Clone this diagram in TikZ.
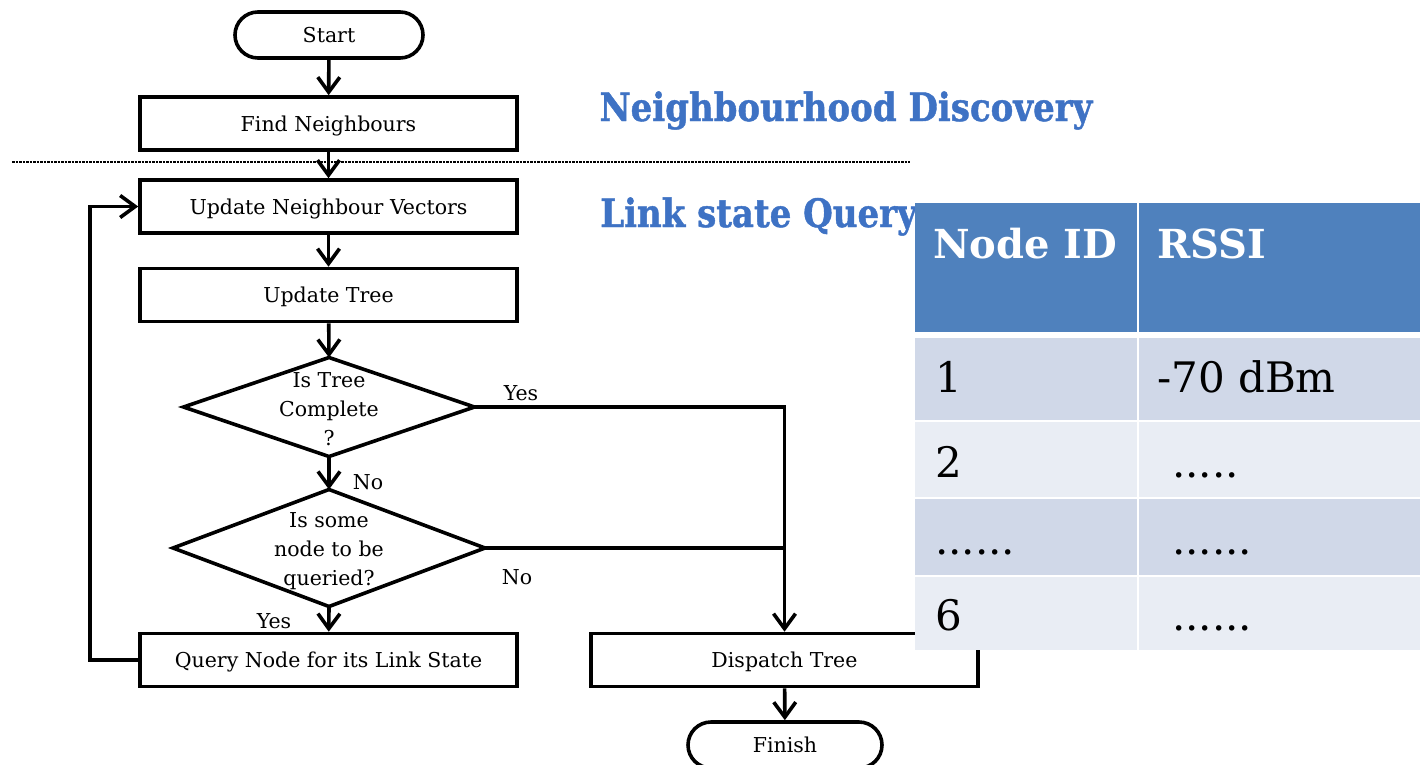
\documentclass[tikz,border=0pt]{standalone}
\usepackage{fontspec}
\setmainfont{DejaVu Serif}
\newfontfamily\wafam[FakeBold=1.2]{DejaVu Serif Bold}
\usetikzlibrary{arrows.meta,shapes.misc}
\definecolor{hdr}{RGB}{79,129,189}
\definecolor{rowA}{RGB}{208,216,232}
\definecolor{rowB}{RGB}{233,237,244}
\definecolor{wordart}{RGB}{62,114,196}
\newcommand\flowfont{\fontsize{20.5}{29}\selectfont}
\newcommand\tabfont{\fontsize{42}{42}\selectfont}
\newcommand\hdrfont{\fontsize{40}{40}\selectfont\bfseries}
\newcommand\wafont{\fontsize{34}{34}\wafam}
\tikzset{
  stepbox/.style={draw, line width=3.6pt, minimum width=377pt, minimum height=53pt, inner sep=0pt, text height=15pt, text depth=0pt, font=\flowfont},
  term/.style={draw, rounded rectangle, line width=3.6pt, minimum height=46pt, inner sep=0pt, text height=15pt, text depth=0pt, font=\flowfont},
  arr/.style={line width=3.6pt, -{Straight Barb[length=15pt,width=22pt]}},
  plain/.style={line width=3.6pt},
  lbl/.style={font=\flowfont, inner sep=0pt},
  dtext/.style={font=\flowfont, inner sep=0pt, align=center},
  ghost/.style={inner sep=0pt, outer sep=0pt},
  tabtxt/.style={font=\tabfont, inner sep=0pt, anchor=base west},
  hdrtxt/.style={font=\hdrfont, text=white, inner sep=0pt, anchor=base west},
  watxt/.style={inner sep=0pt, text=wordart, font=\wafont},
}
\begin{document}
\begin{tikzpicture}[x=1pt,y=-1pt]
\useasboundingbox (0,0) rectangle (1420,764);

% flowchart nodes
\node[term, minimum width=188pt] (start) at (329,35) {Start};
\node[stepbox] (find) at (328.5,123.5) {Find Neighbours};
\node[stepbox] (unv) at (328.5,206.5) {Update Neighbour Vectors};
\node[stepbox] (tree) at (328.5,295) {Update Tree};
\node[ghost, minimum width=291pt, minimum height=99pt] (d1) at (329,407) {};
\draw[plain, line join=miter] (d1.west) -- (d1.north) -- (d1.east) -- (d1.south) -- cycle;
\node[dtext] (d1t) at (329,409) {Is Tree\\Complete\\?};
\node[ghost, minimum width=312pt, minimum height=117pt] (d2) at (329,548) {};
\draw[plain, line join=miter] (d2.west) -- (d2.north) -- (d2.east) -- (d2.south) -- cycle;
\node[dtext] (d2t) at (329,551) {Is some\\node to be\\queried?};
\node[stepbox] (query) at (328.5,660) {Query Node for its Link State};
\node[stepbox, minimum width=387pt] (dispatch) at (784.5,660) {Dispatch Tree};
\node[term, minimum width=194pt] (finish) at (785,745) {Finish};

% separator
\coordinate (sepL) at (12,162);
\coordinate (sepR) at (910,162);
\draw[line width=1.5pt, dash pattern=on 2.5pt off 1pt] (sepL) -- (sepR);

% connectors
\draw[arr] (start) -- (find);
\draw[arr] (find) -- (unv);
\draw[arr] (unv) -- (tree);
\draw[arr] (tree) -- (d1.north);
\draw[arr] (d1.south) -- (d2.north);
\draw[arr] (d2.south) -- (query);
\draw[arr] (query.west) -- ++(-48,0) |- (unv.west);
\draw[arr] (d1.east) -| (dispatch.north);
\draw[plain] (d2.east) -- (d2.east -| dispatch.north);
\draw[arr] (dispatch) -- (finish);

% labels
\node[lbl] (yes1) at (521,393) {Yes};
\node[lbl] (no1) at (368,482) {No};
\node[lbl] (no2) at (517,577) {No};
\node[lbl] (yes2) at (274,621) {Yes};

% word-art titles
\node[watxt, anchor=base] (nd) at (846,121) {\scalebox{1}[1.15]{Neighbourhood Discovery}};
\node[watxt, anchor=base west] (lq) at (600,227) {\scalebox{1}[1.15]{Link state Query}};

% table
\fill[hdr] (915,203) rectangle (1137,332);
\fill[hdr] (1139,203) rectangle (1420,332);
\fill[rowA] (915,338) rectangle (1137,420);
\fill[rowA] (1139,338) rectangle (1420,420);
\fill[rowB] (915,422) rectangle (1137,497);
\fill[rowB] (1139,422) rectangle (1420,497);
\fill[rowA] (915,499) rectangle (1137,575);
\fill[rowA] (1139,499) rectangle (1420,575);
\fill[rowB] (915,577) rectangle (1137,650);
\fill[rowB] (1139,577) rectangle (1420,650);

\node[hdrtxt] (h1) at (933,258) {Node ID};
\node[hdrtxt] (h2) at (1157,258) {RSSI};
\node[tabtxt] (c11) at (935,392) {1};
\node[tabtxt] (c12) at (1157,392) {-70 dBm};
\node[tabtxt] (c21) at (935,477) {2};
\node[tabtxt] (c22) at (1172,477) {.....};
\node[tabtxt] (c31) at (935,554) {......};
\node[tabtxt] (c32) at (1172,554) {......};
\node[tabtxt] (c41) at (935,630) {6};
\node[tabtxt] (c42) at (1172,630) {......};
\end{tikzpicture}
\end{document}
